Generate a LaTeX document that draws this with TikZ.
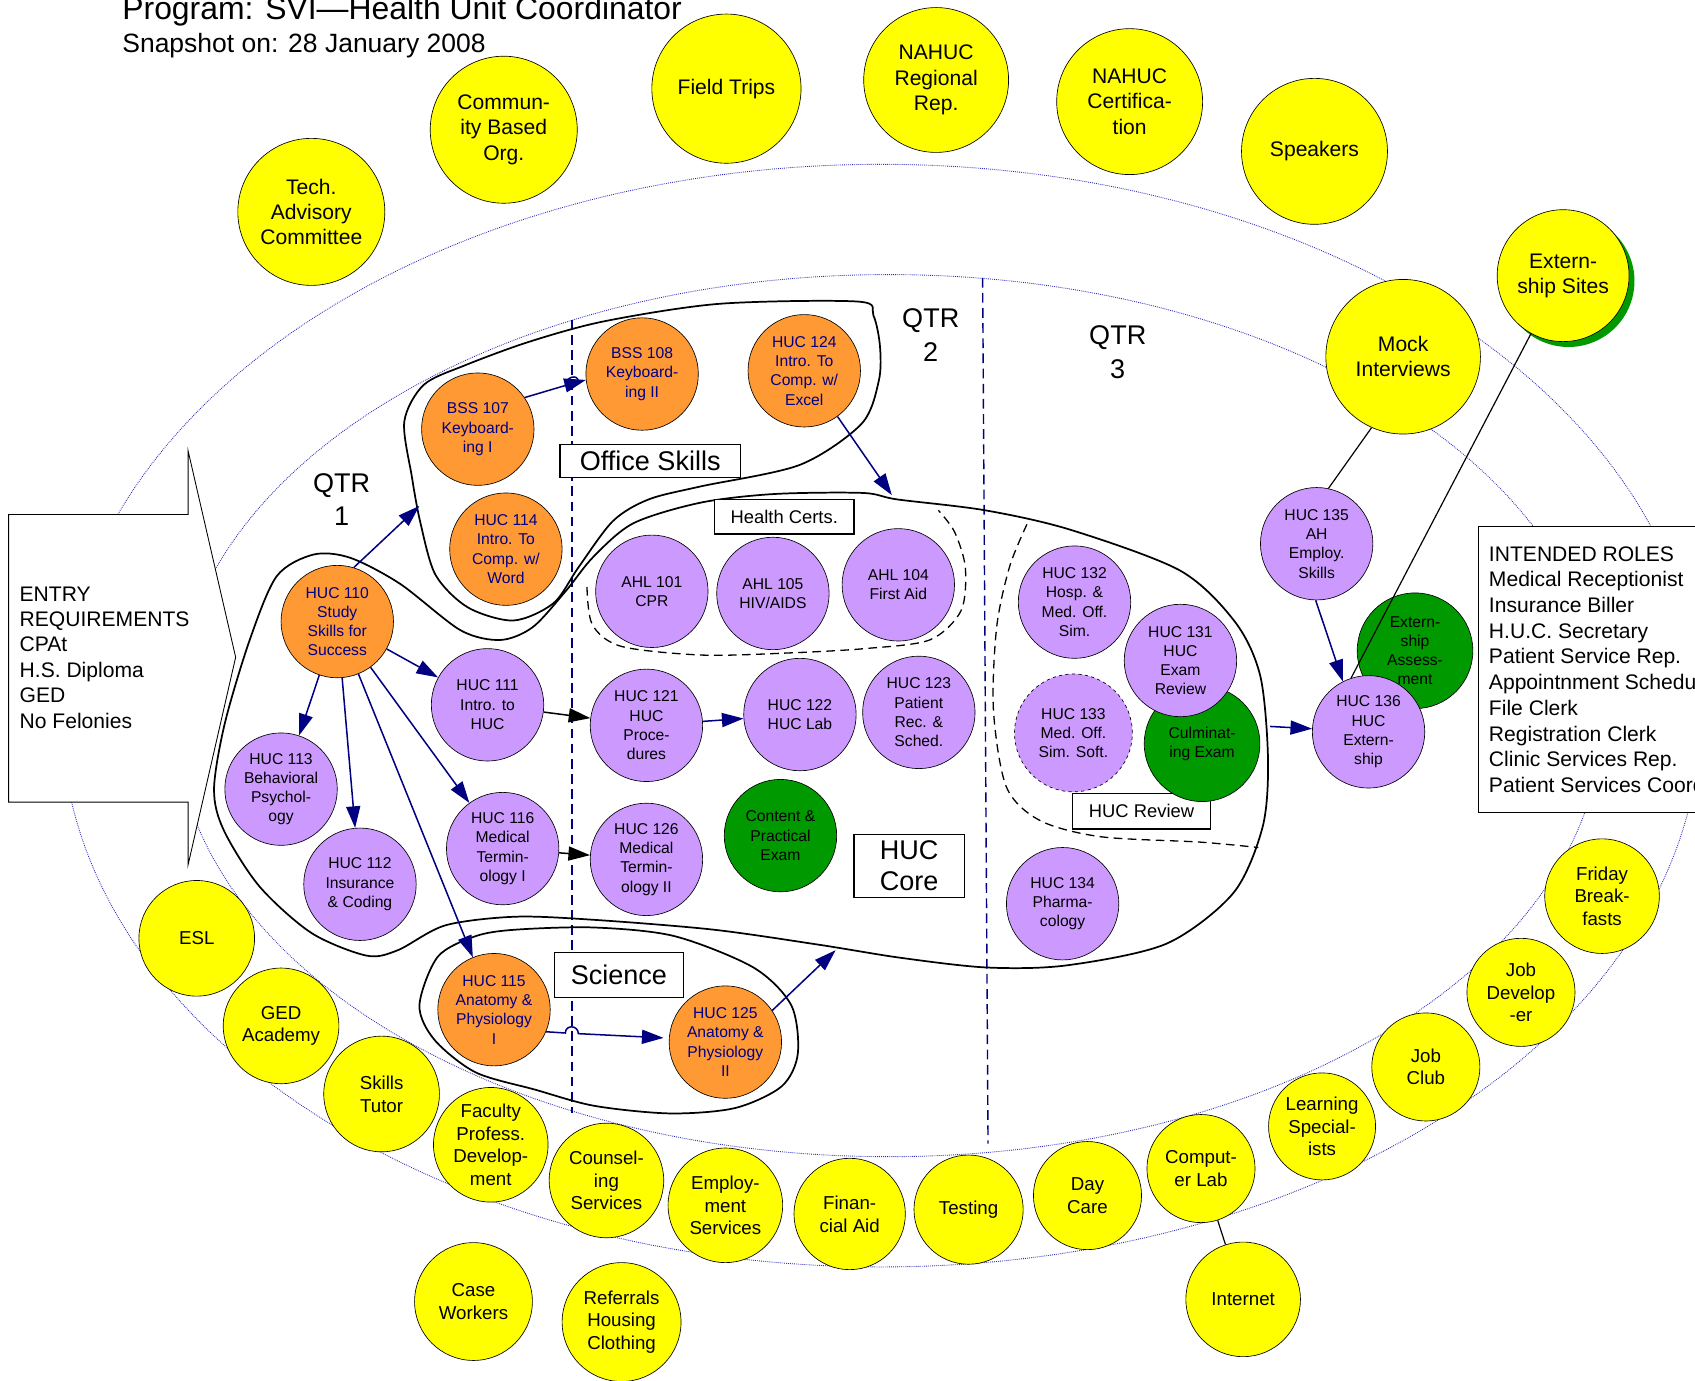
\documentclass[tikz,border=0pt]{standalone}
\usepackage{fontspec}
\setmainfont{Liberation Sans}
\usepackage{tikz}
\usetikzlibrary{arrows.meta,shadows}
\definecolor{navy}{HTML}{000080}
\definecolor{hucorange}{HTML}{FF9933}
\definecolor{hucpurple}{HTML}{CC99FF}
\definecolor{hucgreen}{HTML}{009900}
\definecolor{hucyellow}{HTML}{FFFF00}
\definecolor{orbitblue}{HTML}{2B2BB8}
\tikzset{
  course/.style={circle,draw=black,line width=0.6pt,minimum size=104pt,inner sep=-8pt,
    align=center,font=\fontsize{14.5}{17.8}\selectfont},
  orangecourse/.style={course,fill=hucorange,text=navy},
  purplecourse/.style={course,fill=hucpurple},
  greenexam/.style={course,fill=hucgreen},
  resource/.style={circle,draw=black,line width=0.6pt,fill=hucyellow,minimum size=136pt,inner sep=-8pt,
    align=center,font=\fontsize{19.5}{23.5}\selectfont},
  resourcesm/.style={resource,minimum size=106pt,font=\fontsize{17.3}{21}\selectfont},
  tagbox/.style={draw=black,fill=white,line width=1.2pt,inner sep=0pt,align=center},
  qtrlabel/.style={align=center,font=\fontsize{25}{31}\selectfont},
  orbit/.style={draw=orbitblue,densely dotted,line width=0.8pt},
  qline/.style={draw=navy,dash pattern=on 9pt off 5pt,line width=1.3pt},
  blob/.style={draw=black,line width=1.6pt},
  dashblob/.style={draw=black,dash pattern=on 8pt off 5pt,line width=1.2pt},
  flow/.style={-{Triangle[length=20pt,width=13pt]},draw=navy,line width=1.4pt},
  plainflow/.style={flow,draw=black},
  tie/.style={draw=black,line width=1.1pt}
}
\begin{document}
\begin{tikzpicture}[x=1pt,y=-1pt]
\useasboundingbox (0,0) rectangle (1568,1277);
\draw[orbit] (815,662) ellipse [x radius=758,y radius=510];
\draw[orbit] (822,662) ellipse [x radius=660,y radius=408];
\draw[qline] (529,296) -- (529,1030);
\draw[qline] (909,257) -- (914,1058);
\draw[blob] plot[smooth cycle] coordinates {(798,456) (830,462) (911,472) (990,490) (1092,528) (1143,576) (1166,626) (1173,703) (1168,765) (1141,826) (1079,873) (987,893) (913,895) (833,886) (758,874) (660,860) (551,851) (477,848) (412,856) (368,879) (339,884) (288,863) (240,820) (207,768) (198,730) (208,669) (231,592) (256,533) (290,513) (324,516) (370,540) (426,583) (463,592) (493,580) (524,546) (549,515) (586,484) (648,465) (716,457)};
\draw[blob] plot[smooth cycle] coordinates {(794,279) (808,292) (814,320) (813,352) (797,392) (740,430) (648,450) (600,462) (567,482) (535,525) (512,558) (475,574) (433,562) (403,532) (389,484) (381,441) (374,390) (392,356) (430,338) (490,316) (560,297) (666,281)};
\draw[blob] plot[smooth cycle] coordinates {(388,930) (405,885) (440,866) (477,860) (550,858) (624,866) (697,895) (732,930) (738,975) (723,1005) (680,1025) (620,1030) (550,1023) (495,1008) (440,992) (402,962)};
\draw[dashblob] plot[smooth] coordinates {(543,543) (548,578) (575,598) (650,606) (730,604) (800,600) (860,592) (889,565) (893,525) (883,492) (868,472)};
\draw[dashblob] plot[smooth] coordinates {(950,485) (934,524) (922,580) (919,657) (931,728) (962,759) (1018,774) (1110,779) (1164,784)};
\draw[fill=white,line width=0.8pt] (8,476) -- (174,476) -- (174,417) -- (218,608) -- (174,800) -- (174,742) -- (8,742) -- cycle;
\node[anchor=north west,align=left,inner sep=0pt,font=\fontsize{19.5}{23.5}\selectfont] (entry) at (18,542.5) {ENTRY\\REQUIREMENTS\\CPAt\\H.S. Diploma\\GED\\No Felonies};
\node[draw=black,fill=white,line width=0.8pt,anchor=north west,align=left,inner xsep=10pt,inner ysep=18pt,font=\fontsize{19.5}{23.8}\selectfont] (roles) at (1367,487) {INTENDED ROLES\\Medical Receptionist\\Insurance Biller\\H.U.C. Secretary\\Patient Service Rep.\\Appointnment Scheduler\\File Clerk\\Registration Clerk\\Clinic Services Rep.\\Patient Services Coordinator};
\node[tagbox,minimum width=167pt,minimum height=31pt,font=\fontsize{25}{30}\selectfont] (officeskills) at (601.5,426.5) {Office Skills};
\node[tagbox,minimum width=129pt,minimum height=32pt,font=\fontsize{17}{20}\selectfont] (healthcerts) at (725.5,478) {Health Certs.};
\node[tagbox,minimum width=102pt,minimum height=58pt,font=\fontsize{25}{29}\selectfont] (hucore) at (841,801) {HUC\\Core};
\node[tagbox,minimum width=128pt,minimum height=33pt,font=\fontsize{17}{20}\selectfont] (hucreview) at (1056,750.5) {HUC Review};
\node[tagbox,minimum width=119pt,minimum height=42pt,font=\fontsize{25}{30}\selectfont] (science) at (572.5,902) {Science};
\node[orangecourse] (huc110) at (312,575) {HUC 110\\Study\\Skills for\\Success};
\node[orangecourse] (bss107) at (442,397) {BSS 107\\Keyboard-\\ing I};
\node[orangecourse] (huc114) at (468,508) {HUC 114\\Intro. To\\Comp. w/\\Word};
\node[orangecourse] (bss108) at (594,346) {BSS 108\\Keyboard-\\ing II};
\node[orangecourse] (huc124) at (744,343) {HUC 124\\Intro. To\\Comp. w/\\Excel};
\node[orangecourse] (huc115) at (457,934) {HUC 115\\Anatomy \&\\Physiology\\I};
\node[orangecourse] (huc125) at (671,964) {HUC 125\\Anatomy \&\\Physiology\\II};
\node[purplecourse] (huc111) at (451,652) {HUC 111\\Intro. to\\HUC};
\node[purplecourse] (huc113) at (260,730) {HUC 113\\Behavioral\\Psychol-\\ogy};
\node[purplecourse] (huc112) at (333,818) {HUC 112\\Insurance\\\& Coding};
\node[purplecourse] (huc116) at (465,785) {HUC 116\\Medical\\Termin-\\ology I};
\node[purplecourse] (huc121) at (598,671) {HUC 121\\HUC\\Proce-\\dures};
\node[purplecourse] (huc126) at (598,795) {HUC 126\\Medical\\Termin-\\ology II};
\node[purplecourse] (huc122) at (740,661) {HUC 122\\HUC Lab};
\node[purplecourse] (huc123) at (850,659) {HUC 123\\Patient\\Rec. \&\\Sched.};
\node[purplecourse] (ahl101) at (603,547) {AHL 101\\CPR};
\node[purplecourse] (ahl105) at (715,549) {AHL 105\\HIV/AIDS};
\node[purplecourse] (ahl104) at (831,541) {AHL 104\\First Aid};
\node[greenexam] (contentexam) at (722,773) {Content \&\\Practical\\Exam};
\node[purplecourse] (huc132) at (994,557) {HUC 132\\Hosp. \&\\Med. Off.\\Sim.};
\node[greenexam,minimum size=107pt] (culmexam) at (1112,688) {Culminat-\\ing Exam};
\node[purplecourse] (huc131) at (1092,611) {HUC 131\\HUC\\Exam\\Review};
\node[purplecourse,dashed,minimum size=109pt] (huc133) at (993,678) {HUC 133\\Med. Off.\\Sim. Soft.};
\node[purplecourse] (huc134) at (983,836) {HUC 134\\Pharma-\\cology};
\node[purplecourse] (huc135) at (1218,503) {HUC 135\\AH\\Employ.\\Skills};
\node[greenexam,minimum size=107pt] (externassess) at (1309,602) {Extern-\\ship\\Assess-\\ment};
\node[purplecourse] (huc136) at (1266,677) {HUC 136\\HUC\\Extern-\\ship};
\node[resource] (techadv) at (288,196) {Tech.\\Advisory\\Committee};
\node[resource] (community) at (466,120) {Commun-\\ity Based\\Org.};
\node[resource,minimum size=138pt] (fieldtrips) at (672,82) {Field Trips};
\node[resource,minimum size=134pt] (nahucrep) at (866,74) {NAHUC\\Regional\\Rep.};
\node[resource,minimum size=135pt] (nahuccert) at (1045,94) {NAHUC\\Certifica-\\tion};
\node[resource,minimum size=135pt] (speakers) at (1216,140) {Speakers};
\node[resource,minimum size=122pt,drop shadow={shadow xshift=5pt,shadow yshift=-5pt,fill=hucgreen,opacity=1}] (externsites) at (1446,255) {Extern-\\ship Sites};
\node[resource,minimum size=143pt] (mock) at (1298,330) {Mock\\Interviews};
\node[resourcesm,minimum size=107pt] (esl) at (182,868) {ESL};
\node[resourcesm,minimum size=107pt] (gedacademy) at (260,949) {GED\\Academy};
\node[resourcesm,minimum size=107pt] (skillstutor) at (353,1012) {Skills\\Tutor};
\node[resourcesm] (faculty) at (454,1059) {Faculty\\Profess.\\Develop-\\ment};
\node[resourcesm] (counseling) at (561,1092) {Counsel-\\ing\\Services};
\node[resourcesm] (employment) at (671,1115) {Employ-\\ment\\Services};
\node[resourcesm,minimum size=103pt] (finaid) at (786,1123) {Finan-\\cial Aid};
\node[resourcesm,minimum size=101pt] (testing) at (896,1119) {Testing};
\node[resourcesm,minimum size=100pt] (daycare) at (1006,1106) {Day\\Care};
\node[resourcesm,minimum size=100pt] (computerlab) at (1111,1081) {Comput-\\er Lab};
\node[resourcesm,minimum size=99pt] (learning) at (1223,1042) {Learning\\Special-\\ists};
\node[resourcesm,minimum size=100pt] (jobclub) at (1319,987) {Job\\Club};
\node[resourcesm,minimum size=100pt] (jobdev) at (1407,918) {Job\\Develop\\-er};
\node[resourcesm] (friday) at (1482,829) {Friday\\Break-\\fasts};
\node[resourcesm] (internet) at (1150,1202) {Internet};
\node[resourcesm,minimum size=109pt] (caseworkers) at (438,1204) {Case\\Workers};
\node[resourcesm,minimum size=110pt] (referrals) at (575,1223) {Referrals\\Housing\\Clothing};
\coordinate (officein) at (388,468);
\coordinate (coretop) at (825,458);
\coordinate (corebot) at (773,879);
\coordinate (coreout) at (1175,672);
\coordinate (hopa) at (523,356.6);
\coordinate (hopb) at (535,353.3);
\coordinate (hopc) at (523,955.6);
\coordinate (hopd) at (535,956.2);
\draw[flow] (huc110.73) -- (officein);
\draw[flow] (huc110) -- (huc111);
\draw[flow] (huc110) -- (huc113);
\draw[flow] (huc110) -- (huc112);
\draw[flow] (huc110) -- (huc116);
\draw[flow] (huc110) -- (huc115);
\draw[flow] (bss107.34) -- (hopa) .. controls +(0,-8) and +(0,-8) .. (hopb) -- (bss108.186);
\draw[flow] (huc124.-54) -- (coretop);
\draw[plainflow] (huc111) -- (huc121);
\draw[flow] (huc121) -- (huc122);
\draw[plainflow] (huc116) -- (huc126);
\draw[flow,shorten >=5pt] (huc115.-23) -- (hopc) .. controls +(0,-8) and +(0,-8) .. (hopd) -- (huc125.176);
\draw[flow] (huc125.34) -- (corebot);
\draw[flow] (huc135.-91) -- (huc136.117);
\draw[flow] (coreout) -- (huc136);
\draw[tie] (mock.246) -- (huc135.78);
\draw[tie] (externsites.241) -- (huc136.108);
\draw[tie] (computerlab) -- (internet);
\node[qtrlabel] (qtrone) at (316,462) {QTR\\1};
\node[qtrlabel] (qtrtwo) at (861,310) {QTR\\2};
\node[qtrlabel] (qtrthree) at (1034,326) {QTR\\3};
\node[anchor=base west,inner sep=0pt,font=\fontsize{29.5}{35}\selectfont] (title) at (113,18.5) {Program: SVI—Health Unit Coordinator};
\node[anchor=base west,inner sep=0pt,font=\fontsize{24.5}{29}\selectfont] (snapshot) at (113,49) {Snapshot on: 28 January 2008};
\end{tikzpicture}
\end{document}
